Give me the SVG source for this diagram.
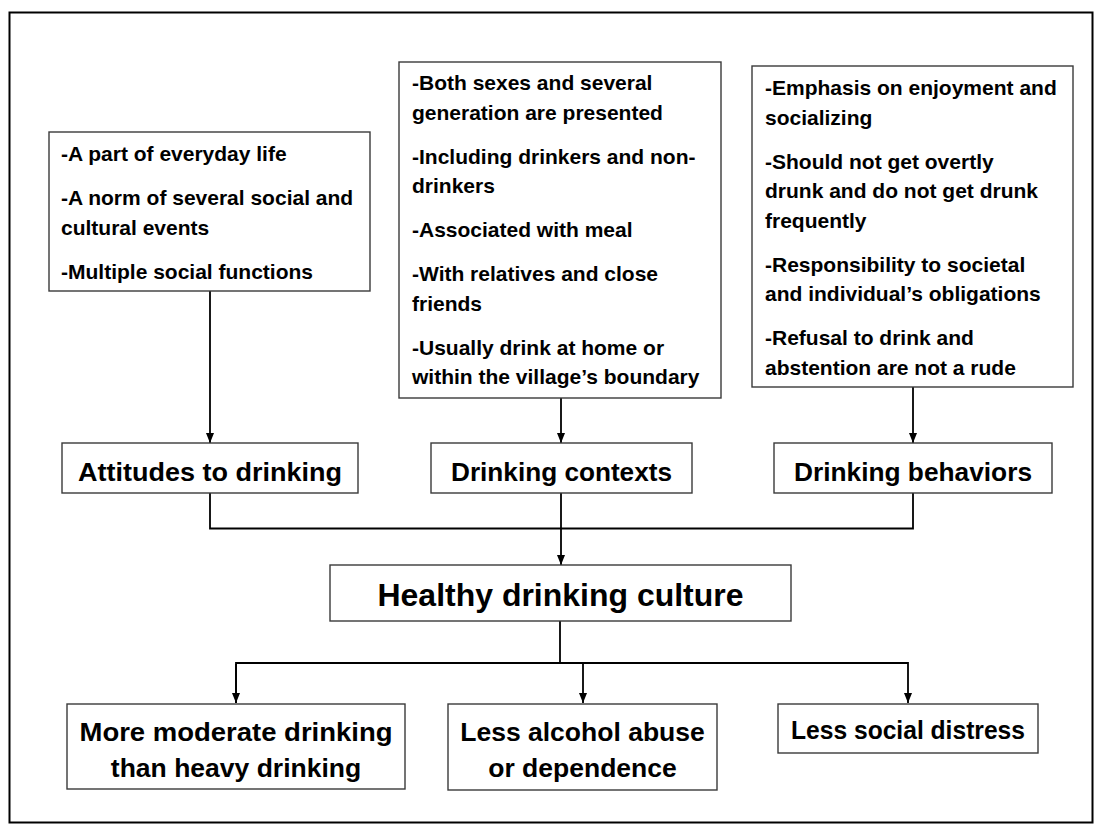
<svg xmlns="http://www.w3.org/2000/svg" width="1102" height="834" viewBox="0 0 1102 834">
  <style>
    .box { fill: #ffffff; stroke: #3a3a3a; stroke-width: 1.4; }
    .frame { fill: #ffffff; stroke: #000000; stroke-width: 2; }
    .body { font-family: "Liberation Sans", Arial, sans-serif; font-weight: bold; font-size: 21px; fill: #000000; }
    .head { font-family: "Liberation Sans", Arial, sans-serif; font-weight: bold; font-size: 26.5px; fill: #000000; text-anchor: middle; }
    .title { font-family: "Liberation Sans", Arial, sans-serif; font-weight: bold; font-size: 32px; fill: #000000; text-anchor: middle; }
    .wire { fill: none; stroke: #000000; stroke-width: 1.8; }
  </style>
  <defs>
    <marker id="arrow" viewBox="0 0 10 8" refX="10" refY="4" markerWidth="10" markerHeight="8" markerUnits="userSpaceOnUse" orient="auto">
      <path d="M0,0 L10,4 L0,8 z" fill="#000000"/>
    </marker>
  </defs>

  <!-- outer frame -->
  <rect class="frame" x="9.5" y="12.5" width="1083" height="810"/>

  <!-- connectors -->
  <g id="connectors">
    <line class="wire" x1="210" y1="291" x2="210" y2="443" marker-end="url(#arrow)"/>
    <line class="wire" x1="561" y1="398" x2="561" y2="443" marker-end="url(#arrow)"/>
    <line class="wire" x1="913" y1="387" x2="913" y2="443" marker-end="url(#arrow)"/>
    <polyline class="wire" points="210,493 210,528.5 913,528.5 913,493"/>
    <line class="wire" x1="561" y1="493" x2="561" y2="565" marker-end="url(#arrow)"/>
    <line class="wire" x1="560" y1="621" x2="560" y2="663"/>
    <polyline class="wire" points="236,703 236,663 908,663 908,703" marker-end="url(#arrow)"/>
    <line class="wire" x1="236" y1="664" x2="236" y2="703" marker-end="url(#arrow)"/>
    <line class="wire" x1="583" y1="663" x2="583" y2="703" marker-end="url(#arrow)"/>
  </g>

  <!-- attitudes detail -->
  <g id="attitudes-detail">
    <rect class="box" x="49" y="132" width="321" height="159"/>
    <text class="body" x="61" y="161">-A part of everyday life</text>
    <text class="body" x="61" y="205">-A norm of several social and</text>
    <text class="body" x="61" y="235">cultural events</text>
    <text class="body" x="61" y="279">-Multiple social functions</text>
  </g>

  <!-- contexts detail -->
  <g id="contexts-detail">
    <rect class="box" x="399" y="62" width="322" height="336"/>
    <text class="body" x="412" y="90">-Both sexes and several</text>
    <text class="body" x="412" y="119.5">generation are presented</text>
    <text class="body" x="412" y="163.5">-Including drinkers and non-</text>
    <text class="body" x="412" y="193">drinkers</text>
    <text class="body" x="412" y="237">-Associated with meal</text>
    <text class="body" x="412" y="281">-With relatives and close</text>
    <text class="body" x="412" y="310.5">friends</text>
    <text class="body" x="412" y="354.5">-Usually drink at home or</text>
    <text class="body" x="412" y="384">within the village’s boundary</text>
  </g>

  <!-- behaviors detail -->
  <g id="behaviors-detail">
    <rect class="box" x="752" y="66" width="321" height="321"/>
    <text class="body" x="765" y="95">-Emphasis on enjoyment and</text>
    <text class="body" x="765" y="124.5">socializing</text>
    <text class="body" x="765" y="168.5">-Should not get overtly</text>
    <text class="body" x="765" y="198">drunk and do not get drunk</text>
    <text class="body" x="765" y="227.5">frequently</text>
    <text class="body" x="765" y="271.5">-Responsibility to societal</text>
    <text class="body" x="765" y="301">and individual’s obligations</text>
    <text class="body" x="765" y="345">-Refusal to drink and</text>
    <text class="body" x="765" y="374.5">abstention are not a rude</text>
  </g>

  <!-- middle row -->
  <g id="attitudes">
    <rect class="box" x="62" y="443" width="296" height="50"/>
    <text class="head" x="210" y="481" textLength="264" lengthAdjust="spacingAndGlyphs">Attitudes to drinking</text>
  </g>
  <g id="contexts">
    <rect class="box" x="431" y="443" width="261" height="50"/>
    <text class="head" x="561.5" y="481" textLength="221" lengthAdjust="spacingAndGlyphs">Drinking contexts</text>
  </g>
  <g id="behaviors">
    <rect class="box" x="774" y="443" width="278" height="50"/>
    <text class="head" x="913" y="481" textLength="238" lengthAdjust="spacingAndGlyphs">Drinking behaviors</text>
  </g>

  <!-- central node -->
  <g id="healthy-culture">
    <rect class="box" x="330" y="565" width="461" height="56"/>
    <text class="title" x="560.5" y="606" textLength="366" lengthAdjust="spacingAndGlyphs">Healthy drinking culture</text>
  </g>

  <!-- outcomes -->
  <g id="moderate-drinking">
    <rect class="box" x="67" y="704" width="338" height="85"/>
    <text class="head" x="236" y="741" textLength="313" lengthAdjust="spacingAndGlyphs">More moderate drinking</text>
    <text class="head" x="236" y="777">than heavy drinking</text>
  </g>
  <g id="less-abuse">
    <rect class="box" x="448" y="704" width="269" height="86"/>
    <text class="head" x="582.5" y="741">Less alcohol abuse</text>
    <text class="head" x="582.5" y="777">or dependence</text>
  </g>
  <g id="less-distress">
    <rect class="box" x="778" y="704" width="260" height="49"/>
    <text class="head" x="908" y="739" textLength="234" lengthAdjust="spacingAndGlyphs">Less social distress</text>
  </g>
</svg>
